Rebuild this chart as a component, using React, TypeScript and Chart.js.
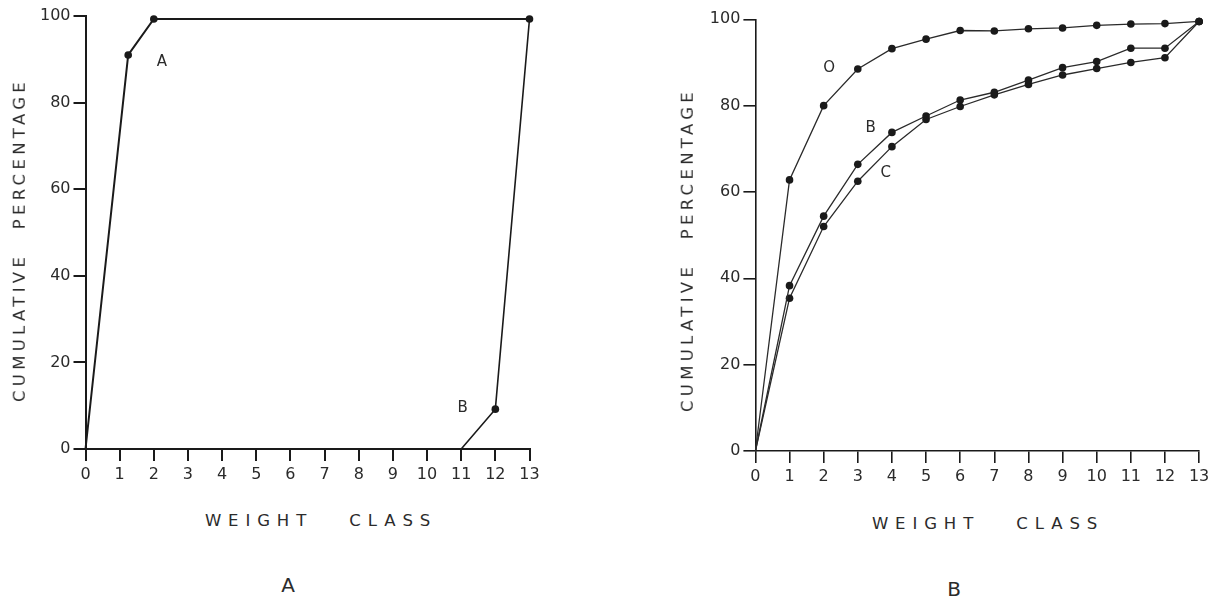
import React, { useEffect, useRef } from "react";
import { Chart, registerables } from "chart.js";

Chart.register(...registerables);

// ---- shared axes ----
const weightClassMin = 0;
const weightClassMax = 13;
const percentTicks = [0, 20, 40, 60, 80, 100];

// ---- Panel A ----
const panelA_curveA_x = [0, 1.25, 2, 13];
const panelA_curveA_y = [0, 91, 99.3, 99.3];
const panelA_curveB_x = [11, 12, 13];
const panelA_curveB_y = [0, 9.2, 99.3];
const panelA_labelText = ["A", "B"];
const panelA_labelX = [2.24, 11.04];
const panelA_labelY = [89.4, 9.5];

// ---- Panel B ----
const panelB_classes = [0, 1, 2, 3, 4, 5, 6, 7, 8, 9, 10, 11, 12, 13];
const panelB_curveO = [0, 62.8, 80, 88.5, 93.2, 95.4, 97.4, 97.3, 97.8, 98.0, 98.6, 98.9, 99.0, 99.5];
const panelB_curveB = [0, 38.3, 54.4, 66.4, 73.8, 77.6, 81.3, 83.1, 85.9, 88.8, 90.2, 93.3, 93.3, 99.5];
const panelB_curveC = [0, 35.4, 52.0, 62.5, 70.5, 76.8, 79.8, 82.5, 84.9, 87.1, 88.6, 90.0, 91.1, 99.5];
const panelB_labelText = ["O", "B", "C"];
const panelB_labelX = [2.16, 3.38, 3.82];
const panelB_labelY = [88.8, 74.8, 64.4];

const FONT = "'DejaVu Sans', 'Liberation Sans', sans-serif";
const INK = "#1a1a1a";
const TEXT = "#2b2b2b";

function toPoints(xs: number[], ys: number[]) {
  return xs.map((x, i) => ({ x, y: ys[i] }));
}

function labelPlugin(texts: string[], xs: number[], ys: number[]) {
  return {
    id: "curveLabels",
    afterDatasetsDraw(chart: any) {
      const { ctx, scales } = chart;
      ctx.save();
      ctx.fillStyle = TEXT;
      ctx.font = `400 15px ${FONT}`;
      ctx.textAlign = "center";
      ctx.textBaseline = "middle";
      texts.forEach((t, i) => {
        ctx.fillText(t, scales.x.getPixelForValue(xs[i]), scales.y.getPixelForValue(ys[i]));
      });
      ctx.restore();
    },
  };
}

function makeScales(yWidth: number, axisWidth: number) {
  return {
    x: {
      type: "linear" as const,
      min: weightClassMin,
      max: weightClassMax,
      afterFit: (s: any) => {
        s.height = 40;
      },
      ticks: {
        stepSize: 1,
        autoSkip: false,
        color: TEXT,
        padding: 4,
        font: { family: FONT, size: 16, weight: "400" as any },
      },
      grid: {
        drawOnChartArea: false,
        drawTicks: true,
        tickLength: 12,
        color: INK,
        lineWidth: axisWidth,
      },
      border: { display: true, color: INK, width: axisWidth },
    },
    y: {
      type: "linear" as const,
      min: percentTicks[0],
      max: percentTicks[percentTicks.length - 1],
      afterFit: (s: any) => {
        s.width = yWidth;
      },
      afterBuildTicks: (s: any) => {
        s.ticks = percentTicks.map((v) => ({ value: v }));
      },
      ticks: {
        color: TEXT,
        padding: 3,
        font: { family: FONT, size: 16, weight: "400" as any },
      },
      grid: {
        drawOnChartArea: false,
        drawTicks: true,
        tickLength: 12,
        color: INK,
        lineWidth: axisWidth,
      },
      border: { display: true, color: INK, width: axisWidth },
    },
  };
}

function PanelA() {
  const ref = useRef<HTMLCanvasElement>(null);
  useEffect(() => {
    if (!ref.current) return;
    const chart = new Chart(ref.current, {
      type: "line",
      data: {
        datasets: [
          {
            label: "A",
            data: toPoints(panelA_curveA_x, panelA_curveA_y),
            borderColor: INK,
            backgroundColor: INK,
            borderWidth: 2,
            pointRadius: (c: any) => (c.dataIndex === 0 ? 0 : 3.8),
            pointBorderWidth: 0,
            tension: 0,
            clip: false as any,
          },
          {
            label: "B",
            data: toPoints(panelA_curveB_x, panelA_curveB_y),
            borderColor: INK,
            backgroundColor: INK,
            borderWidth: 1.6,
            pointRadius: (c: any) => (c.dataIndex === 1 ? 3.8 : 0),
            pointBorderWidth: 0,
            tension: 0,
            clip: false as any,
          },
        ],
      },
      options: {
        responsive: false,
        maintainAspectRatio: false,
        animation: false,
        layout: { padding: { left: 0, top: 16, right: 70.5, bottom: 11 } },
        plugins: { legend: { display: false }, tooltip: { enabled: false }, title: { display: false } },
        scales: makeScales(85.5, 2),
      },
      plugins: [labelPlugin(panelA_labelText, panelA_labelX, panelA_labelY)],
    });
    return () => chart.destroy();
  }, []);
  return (
    <canvas
      ref={ref}
      width={600}
      height={500}
      style={{ position: "absolute", left: 0, top: 0, width: 600, height: 500 }}
    />
  );
}

function PanelB() {
  const ref = useRef<HTMLCanvasElement>(null);
  useEffect(() => {
    if (!ref.current) return;
    const ds = (label: string, ys: number[], w: number) => ({
      label,
      data: toPoints(panelB_classes, ys),
      borderColor: "#2a2a2a",
      backgroundColor: INK,
      borderWidth: w,
      pointRadius: (c: any) => (c.dataIndex === 0 ? 0 : 3.8),
      pointBorderWidth: 0,
      tension: 0,
      clip: false as any,
    });
    const chart = new Chart(ref.current, {
      type: "line",
      data: {
        datasets: [ds("O", panelB_curveO, 1.3), ds("B", panelB_curveB, 1.3), ds("C", panelB_curveC, 1.3)],
      },
      options: {
        responsive: false,
        maintainAspectRatio: false,
        animation: false,
        layout: { padding: { left: 0, top: 19.3, right: 18.9, bottom: 9 } },
        plugins: { legend: { display: false }, tooltip: { enabled: false }, title: { display: false } },
        scales: makeScales(95.4, 1.6),
      },
      plugins: [labelPlugin(panelB_labelText, panelB_labelX, panelB_labelY)],
    });
    return () => chart.destroy();
  }, []);
  return (
    <canvas
      ref={ref}
      width={558}
      height={500}
      style={{ position: "absolute", left: 660, top: 0, width: 558, height: 500 }}
    />
  );
}

const textBase: React.CSSProperties = {
  position: "absolute",
  whiteSpace: "nowrap",
  fontFamily: FONT,
  fontWeight: 400,
  color: TEXT,
  lineHeight: 1,
};

function Label(props: { x: number; y: number; text: string; rotate?: boolean; size: number; ls: number; ws?: number }) {
  const { x, y, text, rotate, size, ls, ws } = props;
  return (
    <div
      style={{
        ...textBase,
        left: x,
        top: y,
        fontSize: size,
        letterSpacing: ls,
        wordSpacing: ws ?? 0,
        transform: `translate(-50%, -50%)${rotate ? " rotate(-90deg)" : ""}`,
      }}
    >
      {text}
    </div>
  );
}

export default function App() {
  return (
    <div style={{ position: "absolute", left: 0, top: 0, width: 1218, height: 601, background: "#fff", overflow: "hidden" }}>
      <PanelA />
      <PanelB />
      <Label x={20} y={240} text="CUMULATIVE PERCENTAGE" rotate size={16.5} ls={4.3} ws={14} />
      <Label x={321} y={521} text="WEIGHT CLASS" size={16.5} ls={6.9} ws={24} />
      <Label x={288} y={585} text="A" size={20} ls={0} />
      <Label x={688} y={250} text="CUMULATIVE PERCENTAGE" rotate size={16.5} ls={4.3} ws={14} />
      <Label x={988} y={524} text="WEIGHT CLASS" size={16.5} ls={6.9} ws={24} />
      <Label x={954} y={589} text="B" size={20} ls={0} />
    </div>
  );
}
